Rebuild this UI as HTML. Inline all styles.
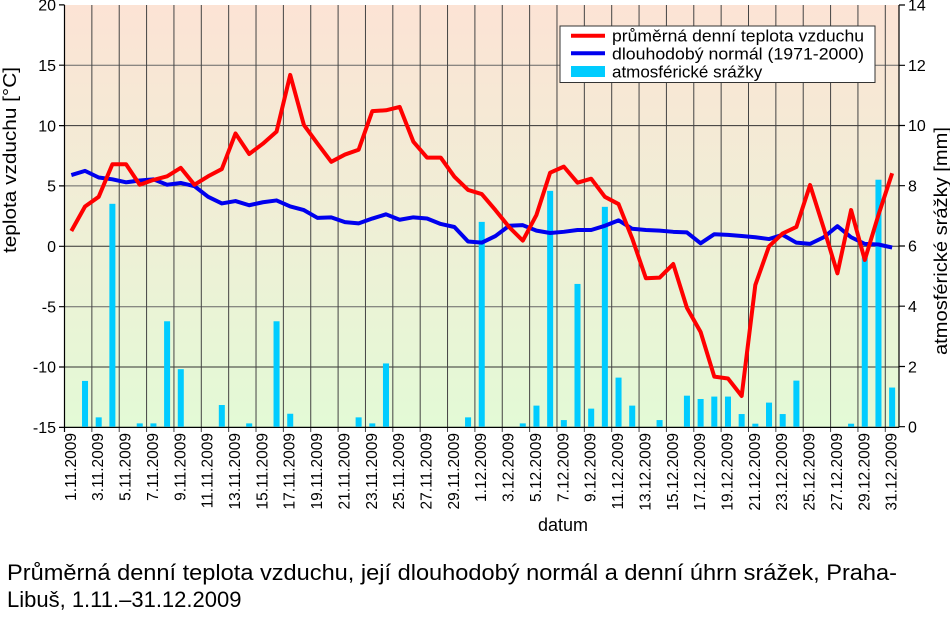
<!DOCTYPE html>
<html><head><meta charset="utf-8"><style>
html,body{margin:0;padding:0;background:#fff;width:950px;height:617px;overflow:hidden}
svg{display:block;font-family:"Liberation Sans",Arial,sans-serif}
</style></head><body>
<svg width="950" height="617" viewBox="0 0 950 617" xmlns="http://www.w3.org/2000/svg">
<defs><linearGradient id="bg" x1="0" y1="0" x2="0" y2="1">
<stop offset="0" stop-color="#fce3d5"/><stop offset="1" stop-color="#e3fad6"/></linearGradient></defs>
<rect x="64.5" y="5" width="834.5" height="422" fill="url(#bg)"/>
<g stroke="#333" stroke-width="1">
<line x1="64.5" x2="899" y1="65.2" y2="65.2" stroke="#666"/>
<line x1="64.5" x2="899" y1="125.6" y2="125.6"/>
<line x1="64.5" x2="899" y1="185.9" y2="185.9" stroke="#666"/>
<line x1="64.5" x2="899" y1="246.3" y2="246.3"/>
<line x1="64.5" x2="899" y1="306.7" y2="306.7" stroke="#666"/>
<line x1="64.5" x2="899" y1="367" y2="367"/>
</g>
<g transform="translate(64.5,0) scale(13.68,1)">
<path vector-effect="non-scaling-stroke" stroke="#444" stroke-width="1" fill="none" d="M2 5V432M4 5V432M6 5V432M8 5V432M10 5V432M12 5V432M14 5V432M16 5V432M18 5V432M20 5V432M22 5V432M24 5V432M26 5V432M28 5V432M30 5V432M32 5V432M34 5V432M36 5V432M38 5V432M40 5V432M42 5V432M44 5V432M46 5V432M48 5V432M50 5V432M52 5V432M54 5V432M56 5V432M58 5V432M60 5V432"/>
</g>
<g stroke="#000" stroke-width="1.2">
<line x1="64.5" y1="5" x2="64.5" y2="427.4"/>
<line x1="899" y1="5" x2="899" y2="427.4"/>
<line x1="59" y1="427.4" x2="899" y2="427.4"/>
<path d="M59 4.9H64.5M59 65.2H64.5M59 125.6H64.5M59 185.9H64.5M59 246.3H64.5M59 306.7H64.5M59 367H64.5"/>
<path d="M899 5H905M899 65.3H905M899 125.5H905M899 185.7H905M899 246H905M899 306.2H905M899 366.5H905M899 426.7H905"/>
<line x1="64.5" y1="427" x2="64.5" y2="432"/>
</g>
<g transform="translate(71.34,426.7) scale(13.68,-30.12)" fill="#00ccff">
<rect x="0.78" width="0.44" y="0" height="1.52"/>
<rect x="1.78" width="0.44" y="0" height="0.31"/>
<rect x="2.78" width="0.44" y="0" height="7.4"/>
<rect x="4.78" width="0.44" y="0" height="0.11"/>
<rect x="5.78" width="0.44" y="0" height="0.11"/>
<rect x="6.78" width="0.44" y="0" height="3.5"/>
<rect x="7.78" width="0.44" y="0" height="1.91"/>
<rect x="10.78" width="0.44" y="0" height="0.72"/>
<rect x="12.78" width="0.44" y="0" height="0.11"/>
<rect x="14.78" width="0.44" y="0" height="3.5"/>
<rect x="15.78" width="0.44" y="0" height="0.43"/>
<rect x="20.78" width="0.44" y="0" height="0.31"/>
<rect x="21.78" width="0.44" y="0" height="0.11"/>
<rect x="22.78" width="0.44" y="0" height="2.1"/>
<rect x="28.78" width="0.44" y="0" height="0.31"/>
<rect x="29.78" width="0.44" y="0" height="6.8"/>
<rect x="32.78" width="0.44" y="0" height="0.11"/>
<rect x="33.78" width="0.44" y="0" height="0.7"/>
<rect x="34.78" width="0.44" y="0" height="7.83"/>
<rect x="35.78" width="0.44" y="0" height="0.22"/>
<rect x="36.78" width="0.44" y="0" height="4.74"/>
<rect x="37.78" width="0.44" y="0" height="0.6"/>
<rect x="38.78" width="0.44" y="0" height="7.3"/>
<rect x="39.78" width="0.44" y="0" height="1.63"/>
<rect x="40.78" width="0.44" y="0" height="0.7"/>
<rect x="42.78" width="0.44" y="0" height="0.22"/>
<rect x="44.78" width="0.44" y="0" height="1.03"/>
<rect x="45.78" width="0.44" y="0" height="0.92"/>
<rect x="46.78" width="0.44" y="0" height="1.0"/>
<rect x="47.78" width="0.44" y="0" height="1.0"/>
<rect x="48.78" width="0.44" y="0" height="0.42"/>
<rect x="49.78" width="0.44" y="0" height="0.1"/>
<rect x="50.78" width="0.44" y="0" height="0.8"/>
<rect x="51.78" width="0.44" y="0" height="0.42"/>
<rect x="52.78" width="0.44" y="0" height="1.53"/>
<rect x="56.78" width="0.44" y="0" height="0.1"/>
<rect x="57.78" width="0.44" y="0" height="5.62"/>
<rect x="58.78" width="0.44" y="0" height="8.2"/>
<rect x="59.78" width="0.44" y="0" height="1.3"/>
</g>
<g transform="translate(71.34,246.3) scale(13.68,-12.07)" fill="none" stroke-width="4" stroke-linejoin="round">
<polyline vector-effect="non-scaling-stroke" stroke="#0000ee" points="0,5.9 1,6.25 2,5.7 3,5.55 4,5.3 5,5.45 6,5.55 7,5.1 8,5.25 9,4.98 10,4.1 11,3.55 12,3.75 13,3.4 14,3.65 15,3.8 16,3.3 17,3.0 18,2.35 19,2.4 20,2.0 21,1.9 22,2.3 23,2.65 24,2.2 25,2.4 26,2.3 27,1.85 28,1.6 29,0.4 30,0.3 31,0.85 32,1.7 33,1.75 34,1.3 35,1.1 36,1.2 37,1.35 38,1.35 39,1.7 40,2.15 41,1.45 42,1.35 43,1.3 44,1.2 45,1.15 46,0.25 47,1.0 48,0.95 49,0.85 50,0.75 51,0.6 52,0.95 53,0.3 54,0.2 55,0.75 56,1.67 57,0.75 58,0.2 59,0.15 60,-0.1"/>
<polyline vector-effect="non-scaling-stroke" stroke="#ff0000" points="0,1.27 1,3.3 2,4.1 3,6.8 4,6.8 5,5.1 6,5.5 7,5.8 8,6.5 9,5.1 10,5.8 11,6.4 12,9.35 13,7.65 14,8.5 15,9.5 16,14.2 17,10.05 18,8.5 19,7.0 20,7.6 21,8.0 22,11.2 23,11.27 24,11.55 25,8.67 26,7.35 27,7.35 28,5.77 29,4.67 30,4.33 31,3.0 32,1.6 33,0.47 34,2.6 35,6.1 36,6.6 37,5.27 38,5.6 39,4.1 40,3.5 41,0.65 42,-2.65 43,-2.6 44,-1.47 45,-5.1 46,-7.1 47,-10.8 48,-10.95 49,-12.4 50,-3.2 51,0 52,1.07 53,1.6 54,5.08 55,1.5 56,-2.24 57,3.0 58,-1.13 59,2.6 60,6.05"/>
</g>
<g font-size="16" text-anchor="end" fill="#000">
<text x="56" y="10.5">20</text><text x="56" y="71">15</text><text x="56" y="131.5">10</text>
<text x="56" y="191.5">5</text><text x="56" y="252">0</text><text x="56" y="312.5">-5</text>
<text x="56" y="372.5">-10</text><text x="56" y="433">-15</text>
</g>
<g font-size="16" text-anchor="start" fill="#000">
<text x="908" y="10.5">14</text><text x="908" y="71">12</text><text x="908" y="131">10</text>
<text x="908" y="191.5">8</text><text x="908" y="251.5">6</text><text x="908" y="312">4</text>
<text x="908" y="372.5">2</text><text x="908" y="432.5">0</text>
</g>
<text font-size="18" transform="translate(10,160) rotate(-90)" text-anchor="middle" dominant-baseline="central" textLength="186" lengthAdjust="spacingAndGlyphs">teplota vzduchu [°C]</text>
<text font-size="18" transform="translate(941,241) rotate(-90)" text-anchor="middle" dominant-baseline="central" textLength="228" lengthAdjust="spacingAndGlyphs">atmosférické srážky [mm]</text>
<g font-size="15.5" text-anchor="end" dominant-baseline="central">
<text transform="translate(71.3,433) rotate(-90)">1.11.2009</text>
<text transform="translate(98.7,433) rotate(-90)">3.11.2009</text>
<text transform="translate(126.1,433) rotate(-90)">5.11.2009</text>
<text transform="translate(153.4,433) rotate(-90)">7.11.2009</text>
<text transform="translate(180.8,433) rotate(-90)">9.11.2009</text>
<text transform="translate(208.1,433) rotate(-90)">11.11.2009</text>
<text transform="translate(235.5,433) rotate(-90)">13.11.2009</text>
<text transform="translate(262.9,433) rotate(-90)">15.11.2009</text>
<text transform="translate(290.2,433) rotate(-90)">17.11.2009</text>
<text transform="translate(317.6,433) rotate(-90)">19.11.2009</text>
<text transform="translate(344.9,433) rotate(-90)">21.11.2009</text>
<text transform="translate(372.3,433) rotate(-90)">23.11.2009</text>
<text transform="translate(399.7,433) rotate(-90)">25.11.2009</text>
<text transform="translate(427,433) rotate(-90)">27.11.2009</text>
<text transform="translate(454.4,433) rotate(-90)">29.11.2009</text>
<text transform="translate(481.7,433) rotate(-90)">1.12.2009</text>
<text transform="translate(509.1,433) rotate(-90)">3.12.2009</text>
<text transform="translate(536.5,433) rotate(-90)">5.12.2009</text>
<text transform="translate(563.8,433) rotate(-90)">7.12.2009</text>
<text transform="translate(591.2,433) rotate(-90)">9.12.2009</text>
<text transform="translate(618.5,433) rotate(-90)">11.12.2009</text>
<text transform="translate(645.9,433) rotate(-90)">13.12.2009</text>
<text transform="translate(673.3,433) rotate(-90)">15.12.2009</text>
<text transform="translate(700.6,433) rotate(-90)">17.12.2009</text>
<text transform="translate(728,433) rotate(-90)">19.12.2009</text>
<text transform="translate(755.3,433) rotate(-90)">21.12.2009</text>
<text transform="translate(782.7,433) rotate(-90)">23.12.2009</text>
<text transform="translate(810.1,433) rotate(-90)">25.12.2009</text>
<text transform="translate(837.4,433) rotate(-90)">27.12.2009</text>
<text transform="translate(864.8,433) rotate(-90)">29.12.2009</text>
<text transform="translate(892.1,433) rotate(-90)">31.12.2009</text>
</g>
<text x="563" y="531" font-size="18" text-anchor="middle">datum</text>
<rect x="560" y="26" width="315" height="56.5" fill="#fff" stroke="#333" stroke-width="1"/>
<line x1="571" x2="605" y1="35.7" y2="35.7" stroke="#ff0000" stroke-width="4"/>
<line x1="571" x2="605" y1="53.3" y2="53.3" stroke="#0000ee" stroke-width="4"/>
<rect x="571" y="66" width="34" height="11" fill="#00ccff"/>
<g font-size="17"><text x="612" y="41.5" textLength="252" lengthAdjust="spacingAndGlyphs">průměrná denní teplota vzduchu</text>
<text x="612" y="59.5" textLength="252" lengthAdjust="spacingAndGlyphs">dlouhodobý normál (1971-2000)</text>
<text x="612" y="77.5">atmosférické srážky</text></g>
<g font-size="22"><text x="7" y="580" textLength="890" lengthAdjust="spacingAndGlyphs">Průměrná denní teplota vzduchu, její dlouhodobý normál a denní úhrn srážek, Praha-</text>
<text x="7" y="607">Libuš, 1.11.–31.12.2009</text></g>
</svg>
</body></html>
